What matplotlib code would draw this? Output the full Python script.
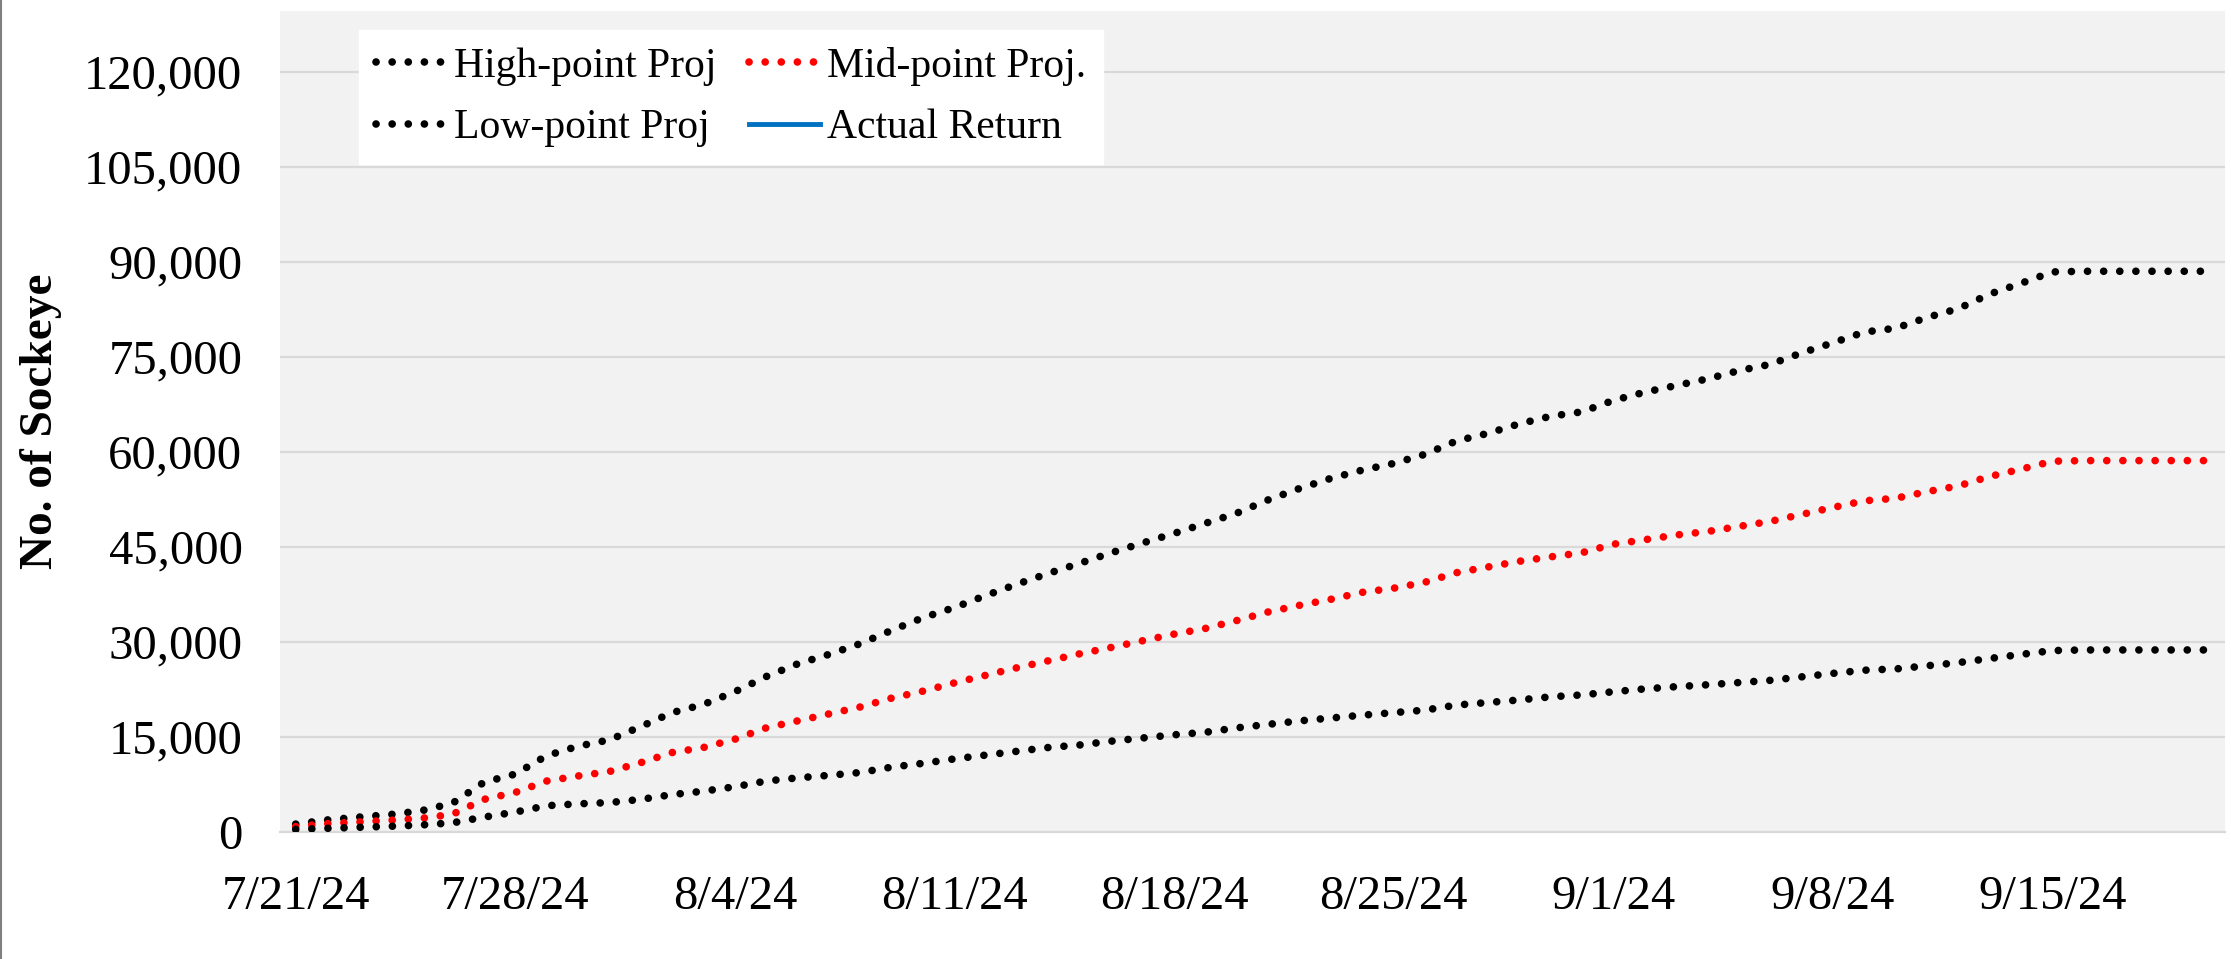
import matplotlib
matplotlib.use("Agg")
import matplotlib.pyplot as plt
from matplotlib.lines import Line2D
import pandas as pd

# ---------------- data ----------------
dates = pd.date_range("2024-07-21", periods=62, freq="D")

high_proj = [1200, 1850, 2300, 2700, 3300, 4500, 7800, 9100, 12000, 13500,
             14500, 16600, 18800, 20100, 22100, 24500, 26500, 28000, 29700, 31800,
             33800, 35400, 37300, 39100, 40800, 42400, 44050, 45600, 47100, 48700,
             50300, 52400, 54200, 55800, 57100, 58150, 59600, 61700, 62900, 64400,
             65600, 66300, 68100, 69400, 70450, 71500, 72800, 73800, 75600, 77200,
             78900, 79500, 81200, 82600, 84900, 86600, 88400, 88500, 88500, 88500,
             88500, 88500]

mid_proj = [800, 1270, 1530, 1800, 2100, 2750, 5100, 6200, 8000, 8800,
            9500, 10900, 12500, 13300, 14600, 16400, 17500, 18600, 19700, 21100,
            22200, 23500, 24700, 25900, 27000, 28100, 29100, 30160, 31200, 32100,
            33350, 34700, 35750, 36700, 37800, 38450, 39400, 40900, 41800, 42700,
            43400, 44050, 45400, 46100, 46850, 47400, 48200, 49000, 50100, 51200,
            52250, 52650, 53700, 54600, 56100, 57250, 58500, 58600, 58600, 58600,
            58600, 58600]

low_proj = [370, 530, 690, 850, 1060, 1400, 2300, 3100, 4100, 4400,
            4600, 5100, 5860, 6400, 7100, 8000, 8500, 8900, 9350, 10200,
            10800, 11500, 12100, 12700, 13300, 13700, 14300, 14800, 15300, 15700,
            16400, 16950, 17500, 17950, 18400, 18800, 19200, 20000, 20400, 20800,
            21300, 21600, 22100, 22550, 22900, 23200, 23550, 23900, 24450, 25000,
            25500, 25700, 26200, 26700, 27350, 28000, 28600, 28700, 28700, 28700,
            28700, 28700]

actual_return = []  # no observations yet

x_tick_labels = ["7/21/24", "7/28/24", "8/4/24", "8/11/24", "8/18/24",
                 "8/25/24", "9/1/24", "9/8/24", "9/15/24"]
y_ticks = [0, 15000, 30000, 45000, 60000, 75000, 90000, 105000, 120000]

# ---------------- figure ----------------
plt.rcParams["font.family"] = ["Liberation Serif", "DejaVu Serif"]

W, H, DPI = 2231, 959, 100
fig = plt.figure(figsize=(W / DPI, H / DPI), dpi=DPI)
fig.patch.set_facecolor("white")

ax_left, ax_right, ax_bottom, ax_top = 280, 2225, 831.7, 11
ax = fig.add_axes([ax_left / W, (H - ax_bottom) / H,
                   (ax_right - ax_left) / W, (ax_bottom - ax_top) / H])
ax.set_facecolor("#F2F2F2")

dot_lw = 5.5
dot_style = (0, (0.01, 2.1))

l_high, = ax.plot(dates, high_proj, color="black", lw=dot_lw, linestyle=dot_style,
                  dash_capstyle="round", label="High-point Proj", zorder=3)
l_mid, = ax.plot(dates, mid_proj, color="#FF0000", lw=dot_lw, linestyle=dot_style,
                 dash_capstyle="round", label="Mid-point Proj.", zorder=3)
l_low, = ax.plot(dates, low_proj, color="black", lw=dot_lw, linestyle=dot_style,
                 dash_capstyle="round", label="Low-point Proj", zorder=3)
l_act, = ax.plot(dates[:len(actual_return)], actual_return, color="#0070C0", lw=3.5,
                 label="Actual Return", zorder=4)

ax.set_xlim(dates[0] - pd.Timedelta(hours=12), dates[-1] + pd.Timedelta(hours=12))
ax.set_ylim(0, 129600)

tick_dates = list(pd.to_datetime(x_tick_labels, format="%m/%d/%y"))
ax.set_xticks(tick_dates)
ax.set_xticklabels(x_tick_labels)
ax.set_yticks(y_ticks)
ax.set_yticklabels([f"{v:,}" for v in y_ticks])

ax.tick_params(axis="both", length=0, labelsize=35, colors="black")
ax.tick_params(axis="x", pad=31)
ax.tick_params(axis="y", pad=27)

ax.grid(axis="y", color="#D9D9D9", lw=1.6, zorder=1)
ax.set_axisbelow(True)
for s in ["top", "right", "left"]:
    ax.spines[s].set_visible(False)
ax.spines["bottom"].set_color("#D9D9D9")
ax.spines["bottom"].set_linewidth(1.6)

ax.set_ylabel("No. of Sockeye", fontsize=34, fontweight="bold")
ax.yaxis.set_label_coords(-0.112, 0.5)

leg = fig.legend(handles=[l_high, l_low, l_mid, l_act],
                 loc="upper left", bbox_to_anchor=(359 / W, 1 - 30 / H),
                 ncol=2, fontsize=30, frameon=True, fancybox=False,
                 borderaxespad=0, handlelength=1.7, handletextpad=0.17,
                 columnspacing=0.8, labelspacing=0.55, borderpad=0.4)
leg.get_frame().set_facecolor("white")
leg.get_frame().set_edgecolor("white")
leg.get_frame().set_alpha(1.0)

# thin gray border on the left edge of the picture
fig.add_artist(Line2D([1 / W, 1 / W], [0, 1], transform=fig.transFigure,
                      color="#7F7F7F", lw=1.5))

fig.savefig("out.png", dpi=DPI)
